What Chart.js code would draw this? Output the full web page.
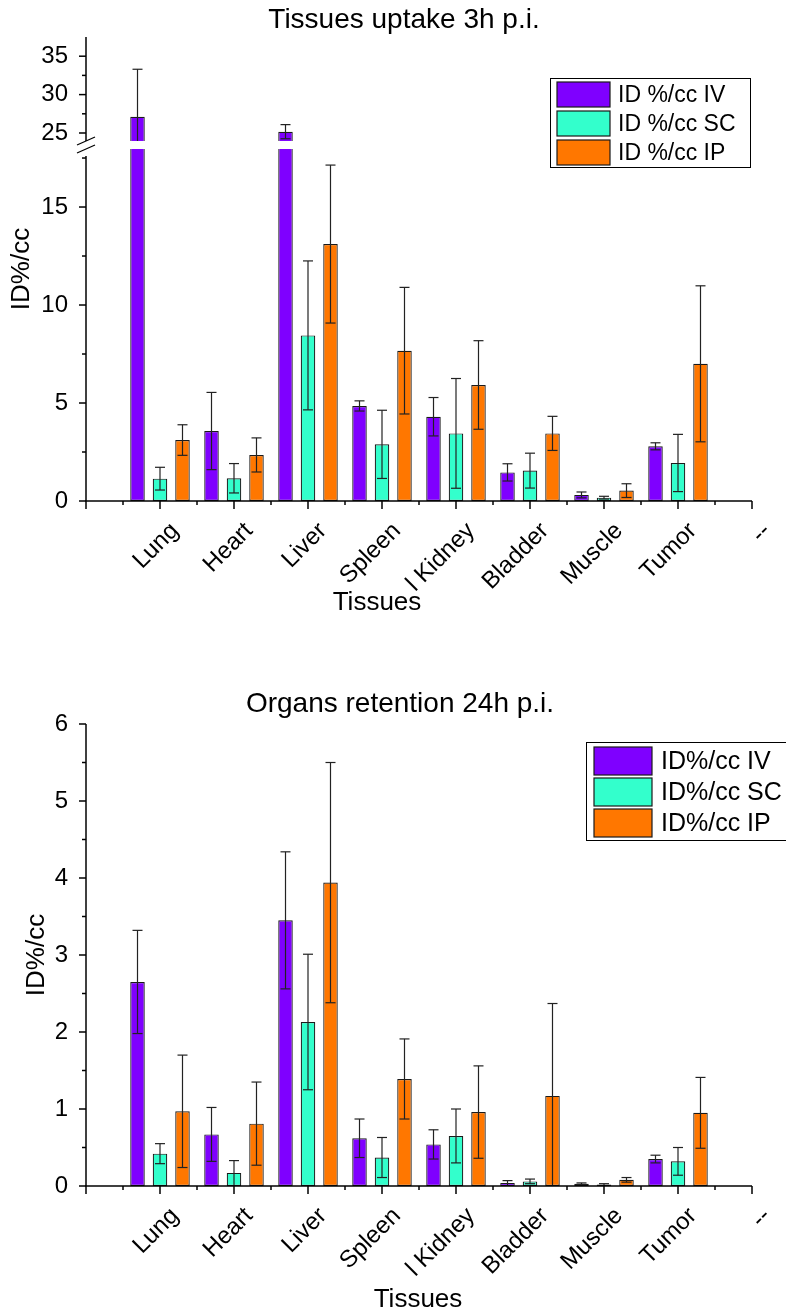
<!DOCTYPE html>
<html>
<head>
<meta charset="utf-8">
<script src="https://cdn.jsdelivr.net/npm/chart.js@4"></script>
<style>
  html, body { margin: 0; padding: 0; background: #fff; }
  .panel { position: absolute; left: 0; width: 786px; }
</style>
</head>
<body>
<div class="panel" style="top:0;height:660px"><canvas id="uptake"></canvas></div>
<div class="panel" style="top:660px;height:652px"><canvas id="retention"></canvas></div>
<script>
'use strict';

// Origin leaves an empty slot before Lung and a "--" slot at the end of the axis
const TISSUES = ['Lung', 'Heart', 'Liver', 'Spleen', 'l Kidney', 'Bladder', 'Muscle', 'Tumor'];
const X_LABELS = ['', ...TISSUES, '--'];

// 3h p.i. (ID %/cc), mean and error per tissue
const IV_3H     = [27.1, 3.57, 25.17, 4.85, 4.30, 1.46, 0.31, 2.79];
const IV_3H_ERR = [6.2, 1.97, 0.92, 0.26, 0.98, 0.44, 0.15, 0.18];
const SC_3H     = [1.14, 1.16, 8.45, 2.89, 3.45, 1.55, 0.17, 1.94];
const SC_3H_ERR = [0.58, 0.75, 3.8, 1.74, 2.8, 0.89, 0.07, 1.46];
const IP_3H     = [3.11, 2.35, 13.11, 7.67, 5.92, 3.45, 0.53, 7.0];
const IP_3H_ERR = [0.78, 0.87, 4.03, 3.23, 2.26, 0.87, 0.35, 3.98];

// 24h p.i.
const IV_24H     = [2.65, 0.67, 3.45, 0.62, 0.54, 0.04, 0.03, 0.35];
const IV_24H_ERR = [0.67, 0.35, 0.89, 0.25, 0.19, 0.03, 0.01, 0.05];
const SC_24H     = [0.42, 0.17, 2.13, 0.37, 0.65, 0.06, 0.02, 0.32];
const SC_24H_ERR = [0.13, 0.16, 0.88, 0.26, 0.35, 0.03, 0.01, 0.18];
const IP_24H     = [0.97, 0.81, 3.94, 1.39, 0.96, 1.17, 0.08, 0.95];
const IP_24H_ERR = [0.73, 0.54, 1.56, 0.52, 0.6, 1.2, 0.03, 0.46];

const Y_MAJOR_3H = [0, 5, 10, 15, 25, 30, 35];
const Y_MINOR_3H = [2.5, 7.5, 12.5, 17.5, 27.5, 32.5];
const Y_MAJOR_24H = [0, 1, 2, 3, 4, 5, 6];
const Y_MINOR_24H = [0.5, 1.5, 2.5, 3.5, 4.5, 5.5];

const FONT = "'Liberation Sans', Arial, sans-serif";
const COLORS = ['#7f00ff', '#33ffcc', '#ff7700'];

// y-axis break of the 3h panel: lower part 0..lowMax, upper part highMin..max
const BRK = { lowMax: 17.96, highMin: 23.96, lowFrac: 0.7586, highFrac: 0.2241, axisLow: 17.6 };

class BrokenScale extends Chart.LinearScale {
  static id = 'broken';
  static defaults = {};

  getPixelForValue(value) {
    const h = this.bottom - this.top;
    const lowPx = h * BRK.lowFrac, highPx = h * BRK.highFrac;
    if (value <= BRK.lowMax) return this.bottom - (value - this.min) / (BRK.lowMax - this.min) * lowPx;
    if (value >= BRK.highMin) return this.top + (this.max - value) / (this.max - BRK.highMin) * highPx;
    const gapTop = this.top + highPx, gapBot = this.bottom - lowPx;
    return gapBot - (value - BRK.lowMax) / (BRK.highMin - BRK.lowMax) * (gapBot - gapTop);
  }

  getValueForPixel(pixel) {
    const h = this.bottom - this.top;
    const lowPx = h * BRK.lowFrac, highPx = h * BRK.highFrac;
    const gapTop = this.top + highPx, gapBot = this.bottom - lowPx;
    if (pixel >= gapBot) return this.min + (this.bottom - pixel) / lowPx * (BRK.lowMax - this.min);
    if (pixel <= gapTop) return this.max - (pixel - this.top) / highPx * (this.max - BRK.highMin);
    return BRK.lowMax + (gapBot - pixel) / (gapBot - gapTop) * (BRK.highMin - BRK.lowMax);
  }
}
Chart.register(BrokenScale);

function pad(arr) {
  return [null, ...arr, null];
}

function makeDatasets(labels, series) {
  return series.map((s, k) => ({
    label: labels[k],
    data: pad(s.values),
    errors: pad(s.errors),
    backgroundColor: COLORS[k],
    borderColor: '#1a1a1a',
    borderWidth: 1.2,
    borderSkipped: false,
    categoryPercentage: 0.912,
    barPercentage: 0.645,
  }));
}

function line(ctx, x1, y1, x2, y2) {
  ctx.beginPath();
  ctx.moveTo(x1, y1);
  ctx.lineTo(x2, y2);
  ctx.stroke();
}

const decor = {
  id: 'decor',
  afterDatasetsDraw(chart, args, o) {
    const { ctx, chartArea: a, scales: { x, y } } = chart;
    ctx.save();

    // error bars
    ctx.strokeStyle = '#222';
    ctx.lineWidth = 1.2;
    chart.data.datasets.forEach((ds, d) => {
      const meta = chart.getDatasetMeta(d);
      ds.data.forEach((v, i) => {
        if (v == null) return;
        const bx = meta.data[i].x;
        const yt = y.getPixelForValue(v + ds.errors[i]);
        const yb = Math.min(y.getPixelForValue(Math.max(v - ds.errors[i], 0)), a.bottom);
        line(ctx, bx, yt, bx, yb);
        line(ctx, bx - 5, yt, bx + 5, yt);
        if (yb < a.bottom - 1) line(ctx, bx - 5, yb, bx + 5, yb);
      });
    });

    // white band through the bars where the y axis is broken
    let gapTop = 0, gapBot = 0;
    if (o.broken) {
      gapTop = y.getPixelForValue(BRK.highMin);
      gapBot = y.getPixelForValue(BRK.lowMax);
      ctx.fillStyle = '#fff';
      ctx.fillRect(a.left + 1, gapTop, a.right - a.left, gapBot - gapTop);
    }

    // axes with Origin-style major/minor ticks
    ctx.strokeStyle = '#000';
    ctx.lineWidth = 1.5;
    line(ctx, a.left - 0.75, a.bottom, a.right, a.bottom);
    const xs = X_LABELS.map((_, i) => x.getPixelForValue(i));
    xs.forEach((px, i) => {
      line(ctx, px, a.bottom, px, a.bottom + 8);
      if (i < xs.length - 1) {
        const mid = (px + xs[i + 1]) / 2;
        line(ctx, mid, a.bottom, mid, a.bottom + 4);
      }
    });
    if (o.broken) {
      line(ctx, a.left, a.top, a.left, gapTop);
      line(ctx, a.left, y.getPixelForValue(BRK.axisLow), a.left, a.bottom);
      ctx.lineWidth = 1.3;
      line(ctx, a.left - 9, gapTop + 4, a.left + 9, gapTop - 4);
      line(ctx, a.left - 9, gapBot + 4, a.left + 9, gapBot - 4);
      ctx.lineWidth = 1.5;
    } else {
      line(ctx, a.left, a.top, a.left, a.bottom);
    }
    o.yMajor.forEach(v => {
      const py = y.getPixelForValue(v);
      line(ctx, a.left - 7, py, a.left, py);
    });
    o.yMinor.forEach(v => {
      const py = y.getPixelForValue(v);
      line(ctx, a.left - 4, py, a.left, py);
    });

    // legend box
    const L = o.legend;
    ctx.fillStyle = '#fff';
    ctx.fillRect(L.x, L.y, L.w, L.h);
    ctx.strokeStyle = '#000';
    ctx.lineWidth = 1;
    ctx.strokeRect(L.x + 0.5, L.y + 0.5, L.w, L.h);
    ctx.font = L.font + 'px ' + FONT;
    ctx.textBaseline = 'middle';
    ctx.textAlign = 'left';
    chart.data.datasets.forEach((ds, k) => {
      const ry = L.y + L.top + k * L.row;
      ctx.fillStyle = ds.backgroundColor;
      ctx.fillRect(L.x + L.sx, ry, L.sw, L.sh);
      ctx.strokeStyle = '#1a1a1a';
      ctx.lineWidth = 1.2;
      ctx.strokeRect(L.x + L.sx, ry, L.sw, L.sh);
      ctx.fillStyle = '#000';
      ctx.fillText(ds.label, L.x + L.tx, ry + L.sh / 2 + 1);
    });

    // chart title and axis titles
    ctx.fillStyle = '#000';
    ctx.textAlign = 'center';
    ctx.textBaseline = 'middle';
    ctx.font = '28px ' + FONT;
    ctx.fillText(o.title, o.titlePos[0], o.titlePos[1]);
    ctx.font = o.titleFont + 'px ' + FONT;
    ctx.fillText('Tissues', o.xTitle[0], o.xTitle[1]);
    ctx.translate(o.yTitle[0], o.yTitle[1]);
    ctx.rotate(-Math.PI / 2);
    ctx.fillText('ID%/cc', 0, 0);
    ctx.restore();
  },
};

function makeChart(id, cfg) {
  return new Chart(document.getElementById(id), {
    type: 'bar',
    data: {
      labels: X_LABELS,
      datasets: makeDatasets(cfg.legendLabels, cfg.series),
    },
    options: {
      responsive: true,
      maintainAspectRatio: false,
      animation: false,
      layout: { padding: { left: 0, right: 34, top: cfg.areaTop, bottom: 0 } },
      plugins: {
        legend: { display: false },
        tooltip: { enabled: false },
        title: { display: false },
        decor: cfg.decor,
      },
      scales: {
        x: {
          type: 'category',
          offset: false,
          grid: { display: false, drawTicks: false },
          border: { display: false },
          ticks: {
            autoSkip: false,
            minRotation: 45,
            maxRotation: 45,
            padding: 16,
            labelOffset: 15,
            color: '#000',
            font: { family: FONT, size: 24 },
          },
          afterFit: s => {
            s.height = cfg.xHeight;
            // keep the plot edges fixed; the rotated end labels have room anyway
            s.paddingLeft = 0;
            s.paddingRight = 0;
          },
        },
        y: Object.assign({
          grid: { display: false, drawTicks: false },
          border: { display: false },
          ticks: { padding: 18, color: '#000', font: { family: FONT, size: 24 } },
          afterFit: s => { s.width = 86; },
        }, cfg.y),
      },
    },
    plugins: [decor],
  });
}

makeChart('uptake', {
  areaTop: 37,
  xHeight: 159,
  legendLabels: ['ID %/cc IV', 'ID %/cc SC', 'ID %/cc IP'],
  series: [
    { values: IV_3H, errors: IV_3H_ERR },
    { values: SC_3H, errors: SC_3H_ERR },
    { values: IP_3H, errors: IP_3H_ERR },
  ],
  y: {
    type: 'broken',
    min: 0,
    max: 37.5,
    afterBuildTicks: s => { s.ticks = Y_MAJOR_3H.map(v => ({ value: v })); },
  },
  decor: {
    title: 'Tissues uptake 3h p.i.',
    titlePos: [404, 20],
    broken: true,
    yMajor: Y_MAJOR_3H,
    yMinor: Y_MINOR_3H,
    legend: { x: 550, y: 78, w: 200, h: 89, sx: 7, sw: 53, sh: 25, top: 4, row: 29, tx: 68, font: 23 },
    titleFont: 26,
    xTitle: [377, 603],
    yTitle: [22, 269],
  },
});

makeChart('retention', {
  areaTop: 64,
  xHeight: 126,
  legendLabels: ['ID%/cc IV', 'ID%/cc SC', 'ID%/cc IP'],
  series: [
    { values: IV_24H, errors: IV_24H_ERR },
    { values: SC_24H, errors: SC_24H_ERR },
    { values: IP_24H, errors: IP_24H_ERR },
  ],
  y: {
    type: 'linear',
    min: 0,
    max: 6,
    afterBuildTicks: s => { s.ticks = Y_MAJOR_24H.map(v => ({ value: v })); },
  },
  decor: {
    title: 'Organs retention 24h p.i.',
    titlePos: [400, 44],
    broken: false,
    yMajor: Y_MAJOR_24H,
    yMinor: Y_MINOR_24H,
    legend: { x: 586, y: 82, w: 215, h: 98, sx: 8, sw: 58, sh: 28, top: 5, row: 31, tx: 75, font: 25 },
    titleFont: 26,
    xTitle: [418, 640],
    yTitle: [37, 295],
  },
});
</script>
</body>
</html>
